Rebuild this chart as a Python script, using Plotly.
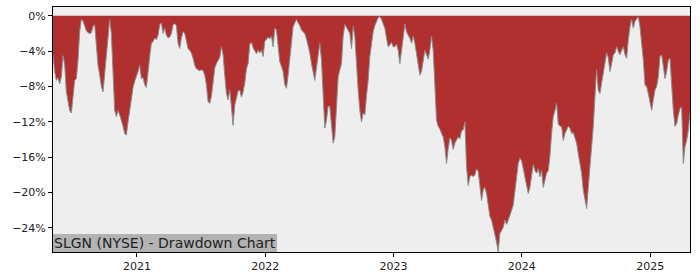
import pandas as pd
import plotly.graph_objects as go

start_date = "2020-05-07"
end_date = "2025-04-24"

drawdown_pct = [
    -4.4, -6.3, -7.3, -7.0, -7.7, -6.9, -4.5, -5.5, -8.6, -9.9,
    -10.7, -11.0, -9.0, -7.3, -7.1, -5.0, -1.8, -0.4, -0.6, -1.2,
    -1.7, -1.9, -2.0, -1.9, -1.2, -1.0, -3.1, -5.6, -6.7, -8.0,
    -8.6, -6.5, -4.8, -2.0, -0.4, -2.0, -5.7, -10.7, -11.4, -10.7,
    -11.2, -11.8, -12.5, -13.3, -13.5, -12.0, -10.7, -9.0, -8.1, -7.4,
    -6.9, -6.3, -5.6, -7.1, -7.0, -7.8, -8.1, -6.1, -4.6, -3.1,
    -2.9, -2.5, -2.7, -2.2, -1.0, -0.8, -2.0, -1.4, -2.2, -2.5,
    -2.4, -2.0, -1.0, -0.9, -1.1, -3.1, -3.7, -2.5, -1.8, -2.0,
    -2.9, -3.7, -3.9, -4.2, -4.8, -5.6, -6.0, -6.1, -6.2, -6.1,
    -6.2, -6.7, -7.8, -9.7, -9.9, -9.1, -7.6, -5.9, -5.4, -5.1,
    -4.7, -3.5, -4.4, -6.7, -8.8, -9.5, -8.4, -10.3, -12.4, -10.1,
    -9.1, -8.5, -8.4, -9.2, -8.6, -7.6, -6.0, -5.4, -3.2, -3.0,
    -3.6, -4.0, -4.3, -3.9, -4.2, -3.9, -4.6, -2.9, -2.6, -2.4,
    -2.6, -2.3, -3.5, -1.4, -1.6, -3.9, -5.2, -5.7, -6.3, -7.8,
    -8.2, -6.7, -4.8, -2.5, -1.2, -0.8, -0.4, -0.8, -1.1, -1.6,
    -1.8, -2.0, -2.6, -3.3, -4.2, -5.4, -6.3, -7.3, -5.9, -4.4,
    -3.1, -5.0, -9.5, -12.7, -11.8, -10.2, -10.3, -12.5, -14.4, -13.7,
    -10.3, -6.9, -6.1, -5.4, -2.3, -1.0, -1.3, -1.6, -2.0, -3.7,
    -1.2, -2.3, -5.7, -8.4, -10.7, -12.0, -11.0, -11.2, -9.0, -7.3,
    -4.6, -3.1, -1.8, -1.1, -0.6, -0.2, -0.1, -0.4, -0.9, -1.4,
    -2.5, -3.5, -3.3, -3.0, -3.5, -3.5, -3.2, -3.9, -5.4, -4.2,
    -2.5, -0.9, -1.8, -2.2, -2.5, -3.1, -2.3, -3.1, -4.4, -5.7,
    -6.7, -6.3, -5.0, -3.9, -4.4, -4.9, -3.9, -2.3, -3.9, -8.4,
    -11.8, -12.5, -12.8, -13.3, -13.7, -14.8, -16.7, -15.0, -13.8, -14.1,
    -15.1, -14.4, -14.1, -13.7, -13.9, -13.0, -12.9, -12.0, -17.1, -19.2,
    -18.2, -18.0, -18.2, -18.0, -17.3, -17.6, -19.2, -20.9, -19.7, -19.4,
    -20.1, -21.2, -22.7, -23.1, -23.9, -24.6, -25.6, -26.7, -24.6, -24.3,
    -23.9, -23.1, -23.6, -23.1, -22.4, -22.0, -21.4, -19.9, -17.8, -16.7,
    -16.1, -16.4, -17.3, -18.2, -19.4, -20.1, -19.4, -17.8, -16.8, -17.5,
    -17.8, -17.3, -18.2, -17.5, -19.4, -18.6, -17.8, -17.5, -15.9, -13.3,
    -11.4, -10.7, -9.9, -12.2, -12.5, -12.5, -14.1, -13.3, -12.8, -12.5,
    -12.7, -13.3, -13.2, -13.7, -14.4, -15.6, -16.7, -17.8, -19.7, -20.9,
    -21.8, -19.4, -17.1, -15.6, -12.5, -9.1, -6.1, -8.4, -8.8, -7.6,
    -6.5, -5.4, -4.2, -4.7, -6.3, -5.4, -4.4, -4.2, -3.5, -4.0,
    -4.4, -3.9, -3.5, -4.4, -4.8, -2.7, -1.2, -0.4, -1.4, -0.6,
    -0.3, -0.1, -1.2, -3.1, -5.0, -7.8, -8.0, -8.8, -9.9, -10.7,
    -9.5, -8.4, -8.0, -6.9, -4.6, -4.4, -5.7, -7.1, -6.3, -5.0,
    -4.8, -8.4, -10.7, -12.5, -12.2, -11.2, -10.5, -10.3, -16.7, -14.8,
    -14.1, -12.9, -11.0,
]

year_ticks = ["2021-01-01", "2022-01-01", "2023-01-01", "2024-01-01", "2025-01-01"]
year_labels = ["2021", "2022", "2023", "2024", "2025"]
y_ticks = [0, -4, -8, -12, -16, -20, -24]
y_labels = ["0%", "\u22124%", "\u22128%", "\u221212%", "\u221216%", "\u221220%", "\u221224%"]
title_text = "SLGN (NYSE) - Drawdown Chart"

dates = pd.date_range(start_date, end_date, periods=len(drawdown_pct))

fig = go.Figure()
fig.add_trace(go.Scatter(
    x=dates, y=drawdown_pct, mode="lines", fill="tozeroy",
    line=dict(color="rgb(140,140,140)", width=1),
    fillcolor="rgb(176,47,47)", hoverinfo="skip",
))

axis_common = dict(
    showline=True, linecolor="black", linewidth=1, mirror=True,
    ticks="outside", ticklen=4, tickcolor="black", showgrid=False,
    zeroline=False, tickfont=dict(family="DejaVu Sans", size=11, color="#222"),
)

fig.update_layout(
    width=700, height=280,
    margin=dict(l=53, r=10, t=7, b=28),
    paper_bgcolor="white", plot_bgcolor="#eeeeee",
    showlegend=False,
    xaxis=dict(range=[start_date, end_date], tickvals=year_ticks, ticktext=year_labels,
               **axis_common),
    yaxis=dict(range=[-26.72, 1.0], tickvals=y_ticks, ticktext=y_labels, **axis_common),
    annotations=[dict(
        text=title_text, xref="paper", yref="paper", x=0, y=0,
        xanchor="left", yanchor="bottom", showarrow=False,
        font=dict(family="DejaVu Sans", size=14, color="#222"),
        bgcolor="#b3b3b3", borderpad=1, borderwidth=0,
    )],
)

fig.write_html("out.html")
